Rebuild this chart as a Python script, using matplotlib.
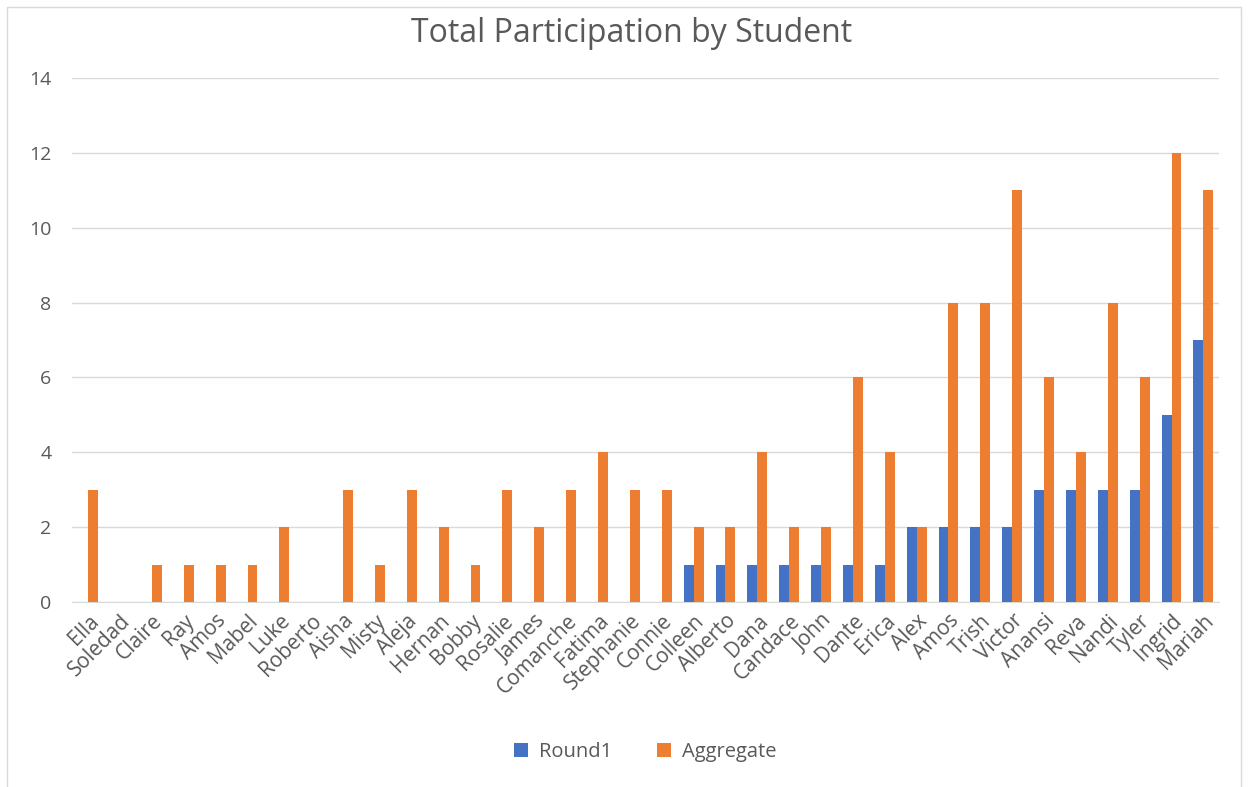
import matplotlib.pyplot as plt
from matplotlib.patches import Rectangle
import numpy as np

students = ["Ella", "Soledad", "Claire", "Ray", "Amos", "Mabel", "Luke", "Roberto",
            "Aisha", "Misty", "Aleja", "Hernan", "Bobby", "Rosalie", "James", "Comanche",
            "Fatima", "Stephanie", "Connie", "Colleen", "Alberto", "Dana", "Candace", "John",
            "Dante", "Erica", "Alex", "Amos", "Trish", "Victor", "Anansi", "Reva", "Nandi",
            "Tyler", "Ingrid", "Mariah"]
round1 = [0, 0, 0, 0, 0, 0, 0, 0, 0, 0, 0, 0, 0, 0, 0, 0, 0, 0, 0,
          1, 1, 1, 1, 1, 1, 1, 2, 2, 2, 2, 3, 3, 3, 3, 5, 7]
aggregate = [3, 0, 1, 1, 1, 1, 2, 0, 3, 1, 3, 2, 1, 3, 2, 3, 4, 3, 3,
             2, 2, 4, 2, 2, 6, 4, 2, 8, 8, 11, 6, 4, 8, 6, 12, 11]

plt.rcParams['font.family'] = ['Open Sans', 'DejaVu Sans']
text_col = '#595959'

fig = plt.figure(figsize=(12.48, 7.87), dpi=100)
# light frame around the chart
fig.patches.append(Rectangle((0.006, -0.01), 0.988, 1.001, transform=fig.transFigure,
                             fill=False, edgecolor='#D9D9D9', linewidth=1))
ax = fig.add_axes([0.058, 0.235, 0.919, 0.666])

x = np.arange(len(students))
w = 0.31
ax.bar(x - w / 2, round1, w, color='#4472C4', label='Round1', zorder=3)
ax.bar(x + w / 2, aggregate, w, color='#ED7D31', label='Aggregate', zorder=3)

ax.set_xlim(-0.5, len(students) - 0.5)
ax.set_ylim(0, 14)
ax.set_yticks(range(0, 15, 2))
ax.grid(axis='y', color='#D9D9D9', linewidth=1, zorder=0)
for s in ['top', 'right', 'left']:
    ax.spines[s].set_visible(False)
ax.spines['bottom'].set_color('#D9D9D9')
ax.tick_params(length=0, colors=text_col)
ax.tick_params(axis='y', pad=15, labelsize=14)
ax.tick_params(axis='x', pad=6)
ax.set_xticks(x)
ax.set_xticklabels(students, rotation=45, ha='right', rotation_mode='anchor', fontsize=15)

fig.text(0.506, 0.958, 'Total Participation by Student', fontsize=23, color=text_col,
         ha='center', va='center')

fig.legend(loc='center', bbox_to_anchor=(0.517, 0.044), ncol=2, frameon=False,
           fontsize=14.5, labelcolor=text_col, handlelength=0.7, handleheight=0.7,
           columnspacing=2.2, handletextpad=0.55)

fig.savefig('out.png', dpi=100)
